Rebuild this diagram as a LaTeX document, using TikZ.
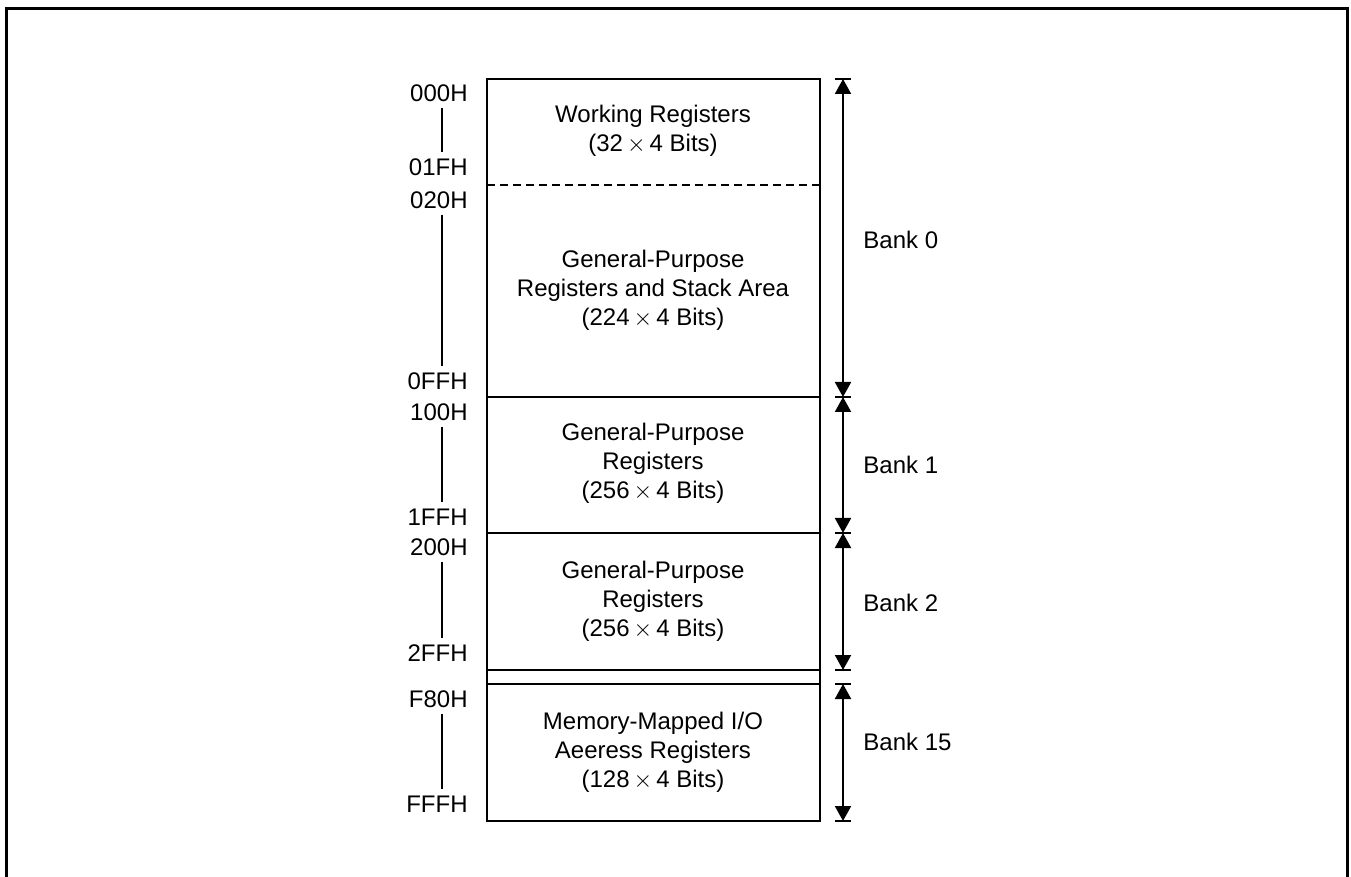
\documentclass[tikz,border=0pt]{standalone}
\usepackage{fontspec}
\setmainfont{Liberation Sans}
\usetikzlibrary{arrows.meta}
\begin{document}
\begin{tikzpicture}[x=0.5pt, y=-0.5pt,
	addr/.style={anchor=east, inner sep=0pt, font=\fontsize{12}{14.5}\selectfont},
	area/.style={align=center, inner sep=0pt, font=\fontsize{12}{14.5}\selectfont},
	bank/.style={anchor=west, inner sep=0pt, font=\fontsize{12}{14.5}\selectfont},
	span/.style={{Triangle[width=8pt,length=7.5pt]}-{Triangle[width=8pt,length=7.5pt]}, line width=1pt},
	addrline/.style={line width=1pt, shorten <=3pt, shorten >=3pt}]
	\useasboundingbox (0,0) rectangle (1351,877);
	\draw[line width=1.5pt] (6,877) -- (6,9) -- (1347,9) -- (1347,877);
	% memory map
	\draw[line width=1pt] (487,79) rectangle (820,821);
	\draw[line width=0.7pt, dash pattern=on 4pt off 2.5pt] (487,185) -- (820,185);
	\draw[line width=1pt] (487,397) -- (820,397);
	\draw[line width=1pt] (487,533) -- (820,533);
	\draw[line width=1pt] (487,670) -- (820,670);
	\draw[line width=1pt] (487,684) -- (820,684);
	\node[area] (w) at (653,131) {Working Registers\\(32\,$\times$\,4 Bits)};
	\node[area] (g0) at (653,290) {General-Purpose\\Registers and Stack Area\\(224\,$\times$\,4 Bits)};
	\node[area] (g1) at (653,463) {General-Purpose\\Registers\\(256\,$\times$\,4 Bits)};
	\node[area] (g2) at (653,601) {General-Purpose\\Registers\\(256\,$\times$\,4 Bits)};
	\node[area] (io) at (653,752) {Memory-Mapped I/O\\Aeeress Registers\\(128\,$\times$\,4 Bits)};
	% addresses
	\coordinate (lx) at (442,0);
	\node[addr] (a1) at (468,93) {000H};
	\node[addr] (a2) at (468,167) {01FH};
	\node[addr] (a3) at (468,200) {020H};
	\node[addr] (a4) at (468,381) {0FFH};
	\node[addr] (a5) at (468,412) {100H};
	\node[addr] (a6) at (468,517) {1FFH};
	\node[addr] (a7) at (468,547) {200H};
	\node[addr] (a8) at (468,653) {2FFH};
	\node[addr] (a9) at (468,699) {F80H};
	\node[addr] (a10) at (468,804) {FFFH};
	\draw[addrline] (a1.south -| lx) -- (a2.north -| lx);
	\draw[addrline] (a3.south -| lx) -- (a4.north -| lx);
	\draw[addrline] (a5.south -| lx) -- (a6.north -| lx);
	\draw[addrline] (a7.south -| lx) -- (a8.north -| lx);
	\draw[addrline] (a9.south -| lx) -- (a10.north -| lx);
	% banks
	\coordinate (t0) at (843,79);
	\coordinate (t1) at (843,397);
	\coordinate (t2) at (843,533);
	\coordinate (t3) at (843,670);
	\coordinate (t4) at (843,684);
	\coordinate (t5) at (843,821);
	\foreach \t in {t0,t1,t2,t3,t4,t5}
		\draw[line width=1pt] ([xshift=-4pt]\t) -- ([xshift=4pt]\t);
	\draw[span] (t0) -- (t1);
	\draw[span] (t1) -- (t2);
	\draw[span] (t2) -- (t3);
	\draw[span] (t4) -- (t5);
	\node[bank] (b0) at (863,240) {Bank 0};
	\node[bank] (b1) at (863,465) {Bank 1};
	\node[bank] (b2) at (863,603) {Bank 2};
	\node[bank] (b15) at (863,742) {Bank 15};
\end{tikzpicture}
\end{document}
